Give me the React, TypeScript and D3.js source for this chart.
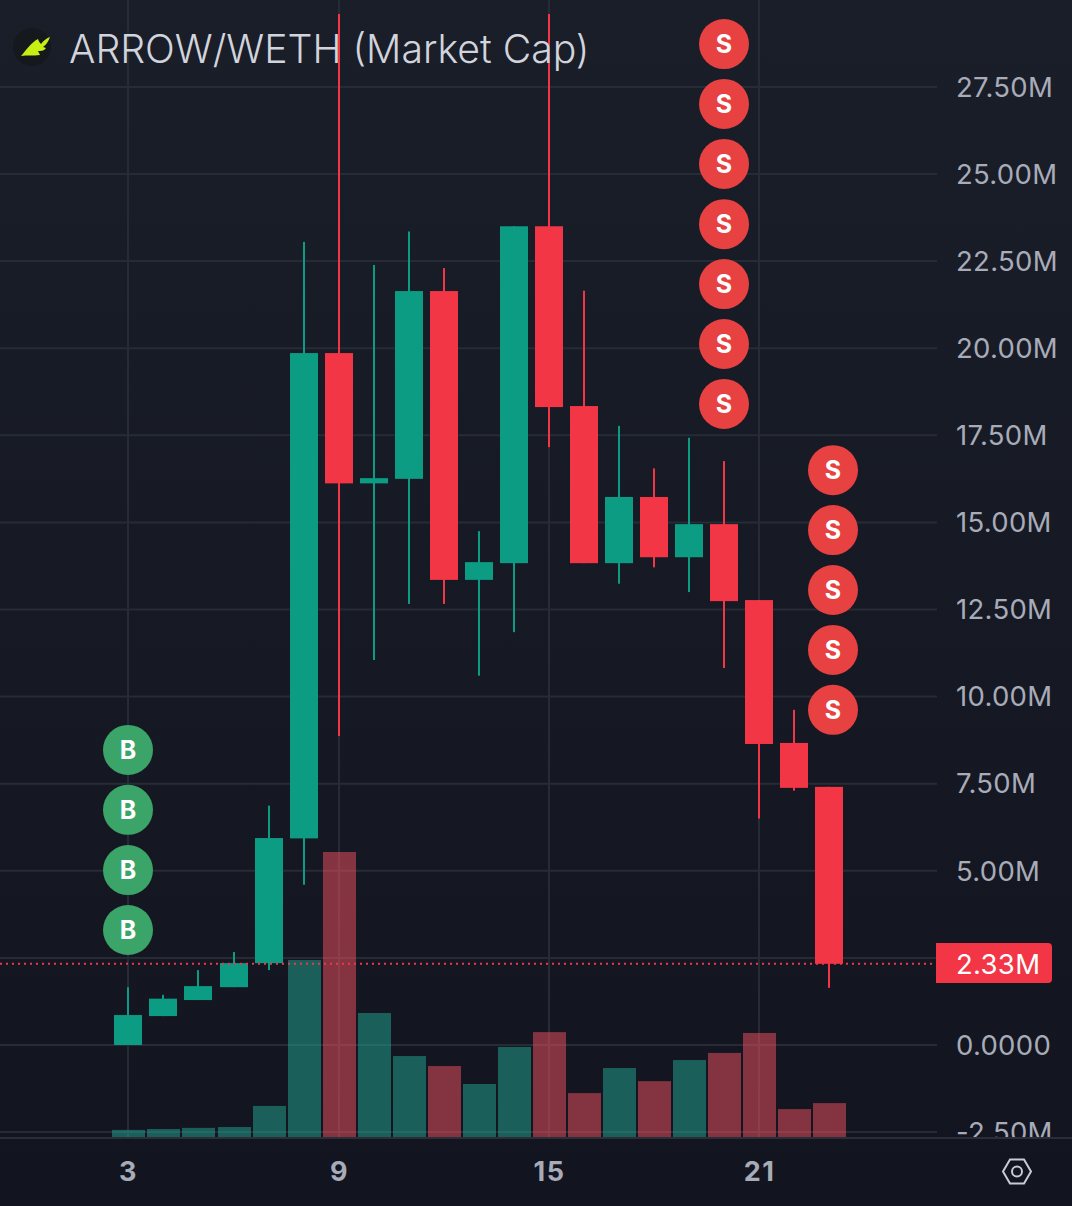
import React from 'react';
import * as d3 from 'd3';

const days = [3, 4, 5, 6, 7, 8, 9, 10, 11, 12, 13, 14, 15, 16, 17, 18, 19, 20, 21, 22, 23];
// market cap in millions
const opens = [0, 0.83, 1.29, 1.66, 2.35, 5.93, 19.86, 16.12, 16.25, 21.64, 13.35, 13.83, 23.5, 18.34, 13.83, 15.73, 14.0, 14.95, 12.77, 8.67, 7.41];
const closes = [0.86, 1.33, 1.69, 2.35, 5.94, 19.86, 16.12, 16.27, 21.64, 13.35, 13.86, 23.5, 18.31, 13.83, 15.73, 14.0, 14.95, 12.74, 8.64, 7.38, 2.33];
const highs = [1.66, 1.44, 2.15, 2.67, 6.87, 23.05, 29.6, 22.39, 23.35, 22.3, 14.75, 23.5, 29.6, 21.65, 17.77, 16.55, 17.43, 16.76, 12.77, 9.62, 7.41];
const lows = [0, 0.83, 1.29, 1.66, 2.15, 4.6, 8.87, 11.05, 12.66, 12.66, 10.6, 11.85, 17.16, 13.83, 13.24, 13.71, 13.0, 10.82, 6.5, 7.3, 1.64];
const volumes = [2.5, 2.8, 3.2, 3.5, 10.9, 62.1, 100, 43.5, 28.4, 24.9, 18.6, 31.6, 36.8, 15.4, 24.2, 19.6, 27, 29.5, 36.5, 9.8, 11.9];

// the 2.50M tick sits behind the last price tag
const priceTicks = [27.5, 25, 22.5, 20, 17.5, 15, 12.5, 10, 7.5, 5, 0, -2.5];
const gridTicks = [27.5, 25, 22.5, 20, 17.5, 15, 12.5, 10, 7.5, 5, 2.5, 0, -2.5];
const dayTicks = [3, 9, 15, 21];
const lastPrice = 2.33;

const buyMarkers = [8.47, 6.75, 5.02, 3.3];
const sellMarkersA = [28.73, 27.01, 25.29, 23.56, 21.84, 20.12, 18.4];
const sellMarkersB = [16.5, 14.78, 13.06, 11.34, 9.62];

const UP = '#0c9c83';
const DOWN = '#f23645';
const VOL_UP = '#24a895';
const VOL_DOWN = '#f5505f';
const GRID = '#272b36';
const AXIS_TEXT = '#a8abb8';
const FONT = 'Inter, "Noto Sans", sans-serif';

const W = 1072;
const H = 1206;
const PLOT_R = 937;
const PANE_BOTTOM = 1137;

const xRaw = d3.scaleLinear().domain([3, 21]).range([128.9, 759.5]);
const x = (d: number) => Math.floor(xRaw(d));
const y = d3.scaleLinear().domain([0, 25]).range([1045, 174]);
const yVol = d3.scaleLinear().domain([0, 100]).range([PANE_BOTTOM, 852]);

const fmtPrice = (v: number) => (v === 0 ? '0.0000' : `${v.toFixed(2)}M`);

const Marker = ({ cx, cy, label, fill }: { cx: number; cy: number; label: string; fill: string }) => (
  <g>
    <circle cx={cx} cy={cy} r={25} fill={fill} />
    <text x={cx} y={cy + 9} textAnchor="middle" fill="#fff" fontSize={25} fontWeight={700} fontFamily={FONT}>
      {label}
    </text>
  </g>
);

export default function App() {
  const bodyW = 28;
  const volW = 33;

  return (
    <svg width={W} height={H} style={{ position: 'absolute', left: 0, top: 0, display: 'block' }}>
      <defs>
        <linearGradient id="bg" x1="0" y1="0" x2="0" y2="1">
          <stop offset="0" stopColor="#1a1e29" />
          <stop offset="1" stopColor="#12151f" />
        </linearGradient>
        <clipPath id="pane">
          <rect x={0} y={14} width={PLOT_R} height={PANE_BOTTOM - 14} />
        </clipPath>
        <clipPath id="axisClip">
          <rect x={PLOT_R} y={0} width={W - PLOT_R} height={PANE_BOTTOM} />
        </clipPath>
      </defs>
      <rect width={W} height={H} fill="url(#bg)" />

      {/* grid */}
      {gridTicks.map(t => (
        <line key={t} x1={0} x2={PLOT_R} y1={y(t)} y2={y(t)} stroke={GRID} strokeWidth={2} />
      ))}
      {dayTicks.map(d => (
        <line key={d} x1={x(d)} x2={x(d)} y1={0} y2={PANE_BOTTOM} stroke={GRID} strokeWidth={2} />
      ))}

      {/* volume */}
      {days.map((d, i) => (
        <rect
          key={d}
          x={x(d) + 0.5 - volW / 2}
          y={yVol(volumes[i])}
          width={volW}
          height={PANE_BOTTOM - yVol(volumes[i])}
          fill={closes[i] >= opens[i] ? VOL_UP : VOL_DOWN}
          opacity={0.5}
        />
      ))}

      {/* candles */}
      <g clipPath="url(#pane)">
        {days.map((d, i) => {
          const color = closes[i] >= opens[i] ? UP : DOWN;
          const top = y(Math.max(opens[i], closes[i]));
          const bottom = y(Math.min(opens[i], closes[i]));
          return (
            <g key={d}>
              <rect x={x(d) - 1} y={y(highs[i])} width={2} height={y(lows[i]) - y(highs[i])} fill={color} />
              <rect x={x(d) - bodyW / 2} y={top} width={bodyW} height={bottom - top} fill={color} />
            </g>
          );
        })}
      </g>

      {/* last price */}
      <line x1={0} x2={PLOT_R} y1={y(lastPrice)} y2={y(lastPrice)} stroke={DOWN} strokeWidth={2} strokeDasharray="2 4" />

      {/* trade markers */}
      {buyMarkers.map(v => (
        <Marker key={v} cx={x(3)} cy={y(v)} label="B" fill="#3ba469" />
      ))}
      {sellMarkersA.map(v => (
        <Marker key={v} cx={x(20)} cy={y(v)} label="S" fill="#e84142" />
      ))}
      {sellMarkersB.map(v => (
        <Marker key={v} cx={x(23) + 4} cy={y(v)} label="S" fill="#e84142" />
      ))}

      {/* title */}
      <circle cx={32} cy={47} r={19} fill="#15181c" />
      <path d="M21 56 C27 49 32 42 38 39 C38.5 41 40 43 41 44 C43 41 47 38 50 37 C48 42 46 45 43 47 L46 48 C44 51 41 51 38 51 L40 55 C33 56 27 55 21 56 Z" fill="#c6f014" />
      <text x={69} y={63} fontSize={39.2} fontWeight={300} fill="#d1d4dc" fontFamily={FONT}>
        ARROW/WETH (Market Cap)
      </text>

      {/* price axis */}
      <g clipPath="url(#axisClip)">
        {priceTicks.map(t => (
          <text key={t} x={956} y={y(t) + 9.7} fontSize={27.5} letterSpacing={0.3} fill={AXIS_TEXT} fontFamily={FONT}>
            {fmtPrice(t)}
          </text>
        ))}
      </g>
      <path d="M936 943 H1048 a4 4 0 0 1 4 4 V979 a4 4 0 0 1 -4 4 H936 Z" fill={DOWN} />
      <text x={956} y={y(lastPrice) + 9.7} fontSize={27.5} letterSpacing={0.3} fill="#fff" fontFamily={FONT}>
        {`${lastPrice.toFixed(2)}M`}
      </text>

      {/* time axis */}
      <line x1={0} x2={W} y1={1138} y2={1138} stroke="#2a2e39" strokeWidth={2} />
      {dayTicks.map(d => (
        <text key={d} x={x(d) + 0.5} y={1180.5} textAnchor="middle" fontSize={27} letterSpacing={1.5} fontWeight={700} fill={AXIS_TEXT} fontFamily={FONT}>
          {d}
        </text>
      ))}

      {/* settings icon */}
      <path d="M1010 1159.5 H1024 L1031 1171.5 L1024 1183.5 H1010 L1003 1171.5 Z" fill="none" stroke="#c8cbd4" strokeWidth={2} />
      <circle cx={1017} cy={1171.5} r={5} fill="none" stroke="#c8cbd4" strokeWidth={2} />
    </svg>
  );
}
